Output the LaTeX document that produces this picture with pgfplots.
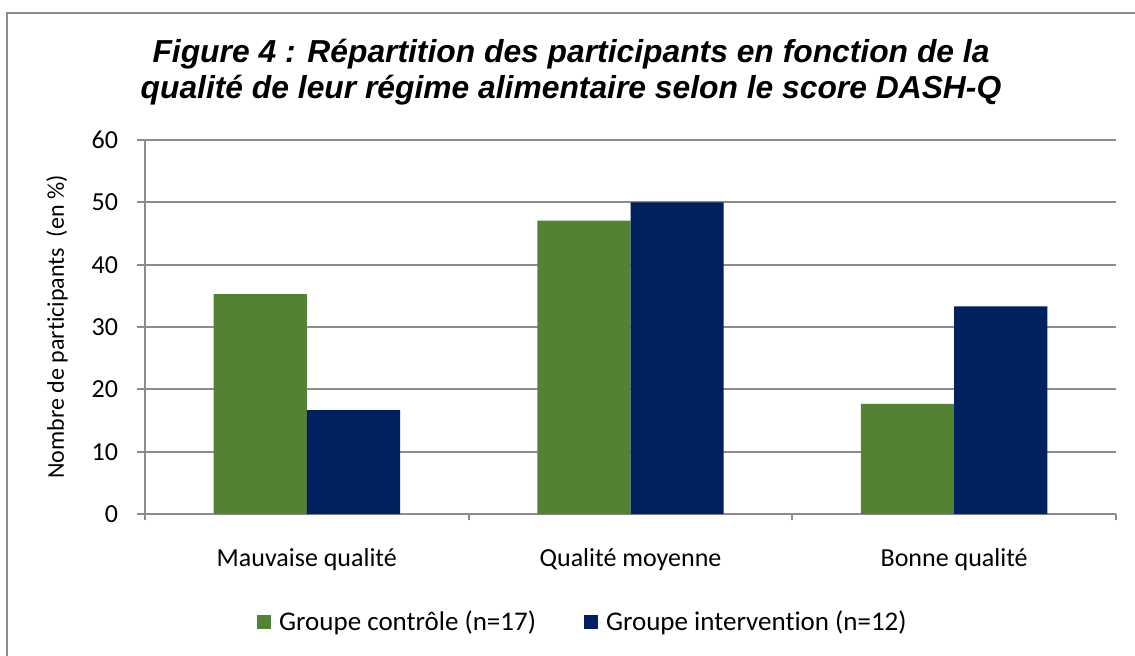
\documentclass[border=0pt]{standalone}
\usepackage{fontspec}
\setmainfont{Carlito}[Ligatures=NoCommon]
\newfontfamily\titlefont{Liberation Sans}
\usepackage{pgfplots}
\pgfplotsset{compat=1.18}
\definecolor{cgreen}{HTML}{548235}
\definecolor{cblue}{HTML}{002060}
\definecolor{cgrid}{HTML}{8C8C8C}
\begin{document}
\begin{tikzpicture}[x=0.5pt,y=0.5pt]
\useasboundingbox (0,0) rectangle (1135,655);
\draw[cgrid, line width=1pt] (7,-5) -- (7,642) -- (1140,642);
\node[anchor=base, font=\titlefont\bfseries\itshape\fontsize{15.9pt}{18pt}\selectfont] at (571,592) {Figure 4 : Répartition des participants en fonction de la};
\node[anchor=base, font=\titlefont\bfseries\itshape\fontsize{15.9pt}{18pt}\selectfont] at (571,557) {qualité de leur régime alimentaire selon le score DASH-Q};
\coordinate (A) at (145,141);
\begin{axis}[
  at={(A)}, anchor=south west,
  scale only axis, width=485.5pt, height=187pt,
  ybar=0pt, bar width=0.288,
  xmin=-0.5, xmax=2.5, ymin=0, ymax=60,
  ytick={0,10,...,60},
  xtick={0,1,2},
  xticklabels={Mauvaise qualité, Qualité moyenne, Bonne qualité},
  minor xtick={-0.5,0.5,1.5,2.5},
  major x tick style={draw=none},
  minor tick length=3pt,
  major tick length=4pt,
  tick align=outside,
  tick style={cgrid, line width=1pt},
  axis x line*=bottom, axis y line*=left,
  axis line style={cgrid, line width=1pt, -},
  ymajorgrids, major grid style={cgrid, line width=1pt},
  /pgf/number format/assume math mode=true,
  tick label style={font=\fontsize{13pt}{15pt}\selectfont, text=black},
  xticklabel style={anchor=base, yshift=-22pt},
  yticklabel style={anchor=east, xshift=-6pt},
  ylabel={Nombre de participants\ \ (en \%)},
  ylabel style={font=\fontsize{12pt}{14pt}\selectfont, at={(axis description cs:-0.0906,0.5)}, anchor=center},
  legend style={at={(0.452,-0.289)}, anchor=center, draw=none, fill=none,
    legend columns=2, font=\fontsize{13.5pt}{15pt}\selectfont,
    /tikz/every even column/.append style={column sep=22pt}},
  legend image code/.code={\path (0pt,0pt) -- (9pt,0pt); \fill[#1] (0pt,-3.5pt) rectangle (7pt,3.5pt);},
]
\addplot[fill=cgreen, draw=none] coordinates {(0,35.29) (1,47.06) (2,17.65)};
\addplot[fill=cblue, draw=none] coordinates {(0,16.67) (1,50) (2,33.33)};
\legend{Groupe contrôle (n=17), Groupe intervention (n=12)}
\end{axis}
\end{tikzpicture}
\end{document}
